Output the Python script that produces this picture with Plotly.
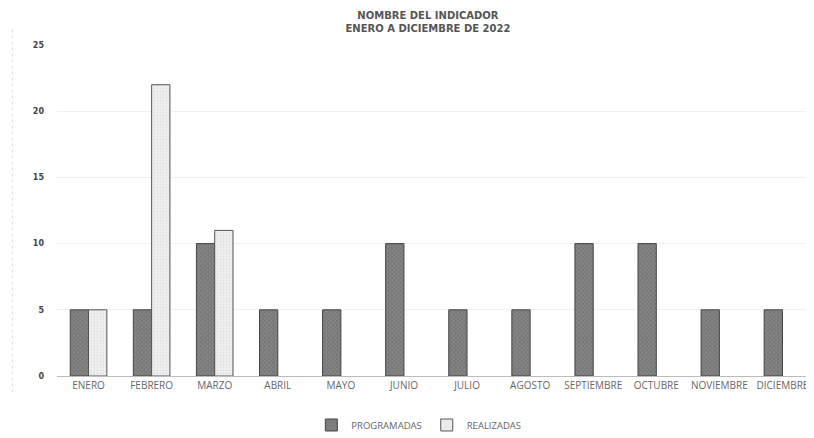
import plotly.graph_objects as go

meses = ["ENERO", "FEBRERO", "MARZO", "ABRIL", "MAYO", "JUNIO", "JULIO",
         "AGOSTO", "SEPTIEMBRE", "OCTUBRE", "NOVIEMBRE", "DICIEMBRE"]
programadas = [5, 5, 10, 5, 5, 10, 5, 5, 10, 10, 5, 5]
realizadas = [5, 22, 11, 0, 0, 0, 0, 0, 0, 0, 0, 0]
y_ticks = [0, 5, 10, 15, 20, 25]

FONT = "Open Sans, Noto Sans, sans-serif"
TFONT = "DejaVu Sans, Open Sans, sans-serif"

fig = go.Figure()
fig.add_trace(go.Bar(
    x=meses, y=programadas, name="PROGRAMADAS",
    marker=dict(color="#737373", line=dict(color="#444444", width=1),
                pattern=dict(shape="x", fgcolor="#555555", bgcolor="#858585", size=3, solidity=0.4)),
))
fig.add_trace(go.Bar(
    x=meses, y=realizadas, name="REALIZADAS",
    marker=dict(color="#ebebeb",
                line=dict(color="#555555", width=[1 if v > 0 else 0 for v in realizadas]),
                pattern=dict(shape=".", fgcolor="#d2d2d2", bgcolor="#efefef", size=3, solidity=0.3)),
))

fig.update_layout(
    width=806, height=430,
    margin=dict(l=49, r=0, t=37, b=62, autoexpand=False),
    paper_bgcolor="white", plot_bgcolor="white",
    barmode="group", bargap=0.42, bargroupgap=0.0,
    font=dict(family=FONT, color="#555555", size=9),
    title=dict(text="<b>NOMBRE DEL INDICADOR<br>ENERO A DICIEMBRE DE 2022</b>",
               x=0.521, xanchor="center", y=0.975, yanchor="top",
               font=dict(size=10, color="#555555", family=TFONT)),
    legend=dict(orientation="h", x=0.478, xanchor="center", y=-0.148, yanchor="middle",
                font=dict(size=9.5, color="#666666", family=FONT), itemwidth=30,
                traceorder="normal"),
    xaxis=dict(showgrid=False, showline=True, linecolor="#bbbbbb", linewidth=1,
               automargin=False, ticks="",
               tickfont=dict(size=10, color="#666666", family=FONT), range=[-0.5, 11.5]),
    yaxis=dict(range=[0, 25], tickvals=y_ticks, showgrid=True, gridcolor="#f0f0f0",
               zeroline=False, showline=False, ticks="", ticklabelstandoff=12,
               automargin=False,
               tickfont=dict(size=8, color="#444444", family=TFONT, weight="bold")),
    shapes=[dict(type="line", xref="paper", yref="paper", x0=-0.059, x1=-0.059, y0=-0.05, y1=1.05,
                 line=dict(color="#dddddd", width=1, dash="dot"))],
)

fig.write_html("out.html")
